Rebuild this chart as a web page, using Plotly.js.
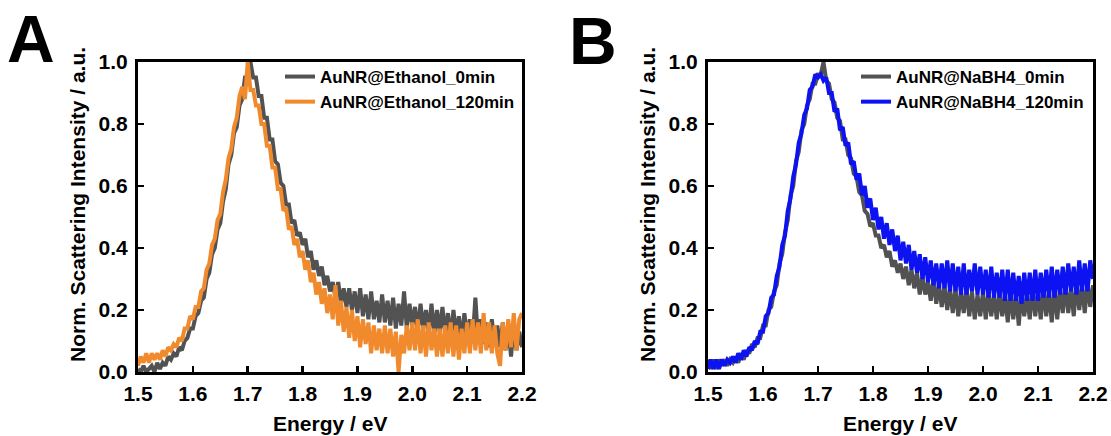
<!DOCTYPE html>
<html>
<head>
<meta charset="utf-8">
<script src="https://cdn.plot.ly/plotly-3.0.1.min.js"></script>
<style>html,body{margin:0;padding:0;background:#fff;}#chart{width:1111px;height:436px;}</style>
</head>
<body>
<div id="chart"></div>
<script>
// Photon energy grid (eV)
const energy = [
1.500,1.505,1.510,1.515,1.520,1.525,1.530,1.535,1.540,1.545,
1.550,1.555,1.560,1.565,1.570,1.575,1.580,1.585,1.590,1.595,
1.600,1.605,1.610,1.615,1.620,1.625,1.630,1.635,1.640,1.645,
1.650,1.655,1.660,1.665,1.670,1.675,1.680,1.685,1.690,1.695,
1.700,1.705,1.710,1.715,1.720,1.725,1.730,1.735,1.740,1.745,
1.750,1.755,1.760,1.765,1.770,1.775,1.780,1.785,1.790,1.795,
1.800,1.805,1.810,1.815,1.820,1.825,1.830,1.835,1.840,1.845,
1.850,1.855,1.860,1.865,1.870,1.875,1.880,1.885,1.890,1.895,
1.900,1.905,1.910,1.915,1.920,1.925,1.930,1.935,1.940,1.945,
1.950,1.955,1.960,1.965,1.970,1.975,1.980,1.985,1.990,1.995,
2.000,2.005,2.010,2.015,2.020,2.025,2.030,2.035,2.040,2.045,
2.050,2.055,2.060,2.065,2.070,2.075,2.080,2.085,2.090,2.095,
2.100,2.105,2.110,2.115,2.120,2.125,2.130,2.135,2.140,2.145,
2.150,2.155,2.160,2.165,2.170,2.175,2.180,2.185,2.190,2.195,
2.200];

// Panel A
const ethanol_0min = [
0.01,0.00,0.02,0.00,0.01,0.02,0.00,0.03,0.01,0.03,
0.02,0.05,0.04,0.06,0.05,0.08,0.07,0.10,0.11,0.14,
0.14,0.18,0.19,0.23,0.24,0.30,0.32,0.38,0.40,0.46,
0.48,0.55,0.59,0.67,0.70,0.77,0.79,0.86,0.88,0.95,
0.95,1.00,0.95,0.95,0.89,0.89,0.82,0.82,0.75,0.75,
0.68,0.67,0.61,0.60,0.54,0.54,0.48,0.49,0.44,0.45,
0.41,0.43,0.37,0.39,0.33,0.36,0.31,0.34,0.28,0.31,
0.26,0.29,0.24,0.29,0.22,0.27,0.21,0.27,0.20,0.26,
0.19,0.27,0.18,0.25,0.17,0.26,0.17,0.23,0.16,0.25,
0.16,0.23,0.15,0.24,0.14,0.22,0.15,0.26,0.14,0.22,
0.15,0.21,0.13,0.22,0.14,0.20,0.13,0.22,0.12,0.20,
0.13,0.21,0.12,0.19,0.11,0.20,0.12,0.18,0.10,0.19,
0.11,0.17,0.10,0.24,0.10,0.17,0.09,0.16,0.08,0.17,
0.09,0.15,0.08,0.16,0.07,0.14,0.05,0.15,0.07,0.13,
0.08];
const ethanol_120min = [
0.02,0.05,0.03,0.06,0.03,0.06,0.04,0.06,0.04,0.07,
0.05,0.08,0.07,0.09,0.08,0.11,0.10,0.14,0.14,0.18,
0.17,0.21,0.21,0.26,0.27,0.33,0.35,0.41,0.43,0.49,
0.51,0.58,0.62,0.69,0.72,0.79,0.82,0.89,0.92,0.88,
1.00,0.91,0.91,0.86,0.86,0.80,0.80,0.73,0.73,0.66,
0.66,0.59,0.59,0.52,0.53,0.46,0.47,0.41,0.43,0.37,
0.39,0.33,0.36,0.29,0.32,0.25,0.29,0.22,0.27,0.19,
0.25,0.17,0.28,0.15,0.23,0.13,0.21,0.11,0.20,0.10,
0.18,0.08,0.17,0.09,0.16,0.06,0.15,0.07,0.14,0.06,
0.15,0.06,0.14,0.05,0.13,0.00,0.12,0.06,0.15,0.07,
0.16,0.07,0.17,0.06,0.15,0.05,0.16,0.07,0.14,0.05,
0.14,0.05,0.15,0.06,0.16,0.05,0.15,0.04,0.14,0.06,
0.16,0.06,0.17,0.07,0.16,0.06,0.19,0.07,0.16,0.06,
0.15,0.06,0.02,0.16,0.07,0.17,0.08,0.19,0.07,0.17,
0.19];

// Panel B
const nabh4_0min = [
0.04,0.01,0.04,0.01,0.04,0.02,0.04,0.02,0.04,0.03,
0.05,0.03,0.06,0.04,0.07,0.06,0.09,0.08,0.11,0.11,
0.15,0.15,0.20,0.21,0.26,0.28,0.35,0.38,0.45,0.49,
0.57,0.60,0.68,0.71,0.78,0.80,0.86,0.88,0.93,0.93,
0.96,0.96,1.00,0.94,0.93,0.88,0.87,0.82,0.81,0.75,
0.75,0.70,0.69,0.64,0.63,0.58,0.57,0.52,0.51,0.47,
0.48,0.44,0.44,0.40,0.41,0.37,0.39,0.34,0.36,0.32,
0.35,0.30,0.34,0.28,0.33,0.27,0.32,0.25,0.31,0.25,
0.29,0.23,0.30,0.22,0.28,0.21,0.28,0.20,0.27,0.19,
0.27,0.18,0.26,0.19,0.27,0.18,0.26,0.17,0.25,0.18,
0.26,0.17,0.26,0.18,0.25,0.17,0.26,0.18,0.25,0.16,
0.26,0.17,0.25,0.15,0.26,0.18,0.25,0.17,0.27,0.18,
0.26,0.17,0.27,0.18,0.26,0.16,0.27,0.17,0.27,0.19,
0.28,0.19,0.27,0.18,0.29,0.20,0.28,0.19,0.29,0.21,
0.28];
const nabh4_120min = [
0.01,0.04,0.01,0.04,0.01,0.04,0.02,0.04,0.03,0.05,
0.03,0.06,0.04,0.07,0.05,0.08,0.07,0.10,0.09,0.13,
0.13,0.18,0.19,0.24,0.25,0.31,0.34,0.41,0.44,0.52,
0.56,0.63,0.67,0.74,0.77,0.83,0.85,0.91,0.92,0.96,
0.95,0.96,0.94,0.95,0.90,0.90,0.84,0.85,0.78,0.79,
0.73,0.74,0.67,0.68,0.62,0.64,0.57,0.60,0.53,0.56,
0.49,0.53,0.46,0.50,0.43,0.48,0.41,0.46,0.39,0.44,
0.36,0.42,0.35,0.41,0.33,0.39,0.32,0.38,0.30,0.37,
0.29,0.36,0.28,0.35,0.27,0.35,0.27,0.36,0.26,0.35,
0.26,0.34,0.25,0.35,0.25,0.33,0.26,0.35,0.25,0.34,
0.25,0.33,0.24,0.34,0.24,0.32,0.24,0.33,0.23,0.33,
0.23,0.32,0.23,0.31,0.22,0.32,0.23,0.32,0.23,0.33,
0.23,0.32,0.24,0.33,0.24,0.34,0.24,0.33,0.25,0.34,
0.25,0.35,0.26,0.34,0.25,0.36,0.26,0.35,0.26,0.36,
0.30];

const seriesNames = ['AuNR@Ethanol_0min','AuNR@Ethanol_120min','AuNR@NaBH4_0min','AuNR@NaBH4_120min'];
const xTickVals = [1.5,1.6,1.7,1.8,1.9,2.0,2.1,2.2];
const yTickVals = [0.0,0.2,0.4,0.6,0.8,1.0];
const xTitle = 'Energy / eV';
const yTitle = 'Norm. Scattering Intensity / a.u.';
const panelLabels = ['A','B'];

const FONT = 'Liberation Sans, Arial, sans-serif';
const GRAY = '#525252', ORANGE = '#f08a2c', BLUE = '#0c12f2';
const LW = 4;

const traces = [
  {x: energy, y: ethanol_0min, name: seriesNames[0], type:'scatter', mode:'lines', line:{color:GRAY, width:LW}, xaxis:'x', yaxis:'y', legend:'legend'},
  {x: energy, y: ethanol_120min, name: seriesNames[1], type:'scatter', mode:'lines', line:{color:ORANGE, width:LW}, xaxis:'x', yaxis:'y', legend:'legend'},
  {x: energy, y: nabh4_0min, name: seriesNames[2], type:'scatter', mode:'lines', line:{color:GRAY, width:LW}, xaxis:'x2', yaxis:'y2', legend:'legend2'},
  {x: energy, y: nabh4_120min, name: seriesNames[3], type:'scatter', mode:'lines', line:{color:BLUE, width:LW}, xaxis:'x2', yaxis:'y2', legend:'legend2'}
];

const W = 1111, H = 436;
const tickFont = {family: FONT, size: 21, color: '#000', weight: 'bold'};
function xAx(d, anchor){
  return {domain: d, anchor: anchor, range:[1.5,2.2], tickvals: xTickVals, tickformat:'.1f',
    ticks:'inside', ticklen:6, tickwidth:2.5, tickcolor:'#000', showline:true, linewidth:3, linecolor:'#000',
    mirror:true, showgrid:false, zeroline:false, tickfont: tickFont, ticklabelstandoff: 1};
}
function yAx(anchor){
  return {domain:[1-372/H, 1-62/H], anchor: anchor, range:[0,1], tickvals: yTickVals, tickformat:'.1f',
    ticks:'inside', ticklen:6, tickwidth:2.5, tickcolor:'#000', showline:true, linewidth:3, linecolor:'#000',
    mirror:true, showgrid:false, zeroline:false, tickfont: tickFont, ticklabelstandoff: 3};
}
const legFont = {family: FONT, size: 17, color:'#000', weight:'bold'};
const layout = {
  width: W, height: H, margin:{l:0,r:0,t:0,b:0},
  paper_bgcolor:'#fff', plot_bgcolor:'#fff', showlegend:true,
  xaxis: xAx([138/W, 522/W], 'y'),
  yaxis: yAx('x'),
  xaxis2: xAx([708/W, 1093/W], 'y2'),
  yaxis2: yAx('x2'),
  legend: {x: 280/W, y: 1-59/H, xanchor:'left', yanchor:'top', font: legFont, bgcolor:'rgba(0,0,0,0)', borderwidth:0, tracegroupgap:0, itemwidth:30},
  legend2: {x: 856/W, y: 1-59/H, xanchor:'left', yanchor:'top', font: legFont, bgcolor:'rgba(0,0,0,0)', borderwidth:0, tracegroupgap:0, itemwidth:30},
  annotations: [
    {text: panelLabels[0], x: 31/W, y: 1-39/H, xref:'paper', yref:'paper', showarrow:false, xanchor:'center', yanchor:'middle', font:{family:FONT, size:66, color:'#000', weight:'bold'}},
    {text: panelLabels[1], x: 593/W, y: 1-41/H, xref:'paper', yref:'paper', showarrow:false, xanchor:'center', yanchor:'middle', font:{family:FONT, size:66, color:'#000', weight:'bold'}},
    {text: xTitle, x: 330/W, y: 1-423/H, xref:'paper', yref:'paper', showarrow:false, xanchor:'center', yanchor:'middle', font:{family:FONT, size:21, color:'#000', weight:'bold'}},
    {text: xTitle, x: 900/W, y: 1-423/H, xref:'paper', yref:'paper', showarrow:false, xanchor:'center', yanchor:'middle', font:{family:FONT, size:21, color:'#000', weight:'bold'}},
    {text: yTitle, x: 77/W, y: 1-205/H, xref:'paper', yref:'paper', showarrow:false, textangle:-90, xanchor:'center', yanchor:'middle', font:{family:FONT, size:21, color:'#000', weight:'bold'}},
    {text: yTitle, x: 647/W, y: 1-205/H, xref:'paper', yref:'paper', showarrow:false, textangle:-90, xanchor:'center', yanchor:'middle', font:{family:FONT, size:21, color:'#000', weight:'bold'}}
  ]
};
Plotly.newPlot('chart', traces, layout, {staticPlot:true, displayModeBar:false});
</script>
</body>
</html>
